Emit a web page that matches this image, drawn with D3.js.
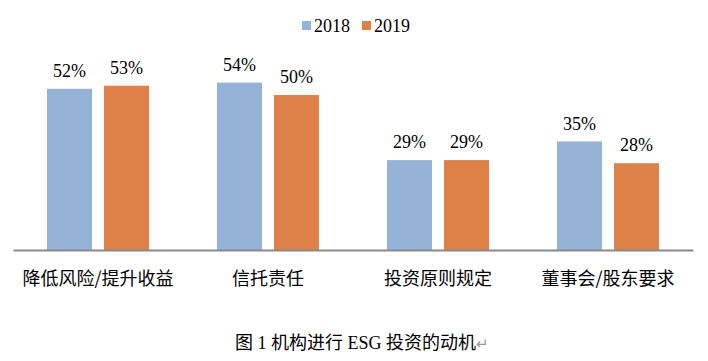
<!DOCTYPE html>
<html><head><meta charset="utf-8">
<script src="https://cdn.jsdelivr.net/npm/d3@7"></script>
<style>body{margin:0;background:#fff}svg{display:block}</style>
</head><body>
<script>
const categories = ["降低风险/提升收益", "信托责任", "投资原则规定", "董事会/股东要求"];
const seriesNames = ["2018", "2019"];
const values2018 = [52, 54, 29, 35];
const values2019 = [53, 50, 29, 28];
const colors = ["#95B3D7", "#DE8149"];
const caption = "图 1 机构进行 ESG 投资的动机";

const W = 708, H = 361;
const svg = d3.select("body").append("svg").attr("width", W).attr("height", H);
const baseY = 250;
const x0 = d3.scaleBand().domain(categories).range([13, 693]).paddingInner(0).paddingOuter(0);
const x1 = d3.scaleBand().domain(seriesNames).range([34, 136]).paddingInner(0.21);
const y = d3.scaleLinear().domain([0, 100]).range([baseY, baseY - 310]);

const data = categories.map((c, i) => ({cat: c, vals: [values2018[i], values2019[i]]}));

const g = svg.append("g");
const groups = g.selectAll("g.cat").data(data).join("g")
  .attr("transform", d => `translate(${x0(d.cat)},0)`);
groups.selectAll("rect").data(d => d.vals.map((v, j) => ({s: seriesNames[j], v, j})))
  .join("rect")
  .attr("x", d => x1(d.s)).attr("width", x1.bandwidth())
  .attr("y", d => y(d.v)).attr("height", d => baseY - y(d.v))
  .attr("fill", d => colors[d.j]);
groups.selectAll("text.val").data(d => d.vals.map((v, j) => ({s: seriesNames[j], v, j})))
  .join("text").attr("class", "val")
  .attr("x", d => x1(d.s) + x1.bandwidth() / 2)
  .attr("y", d => y(d.v) - 12)
  .attr("text-anchor", "middle")
  .attr("font-family", "'Liberation Serif', 'Times New Roman', serif")
  .attr("font-size", 18).attr("fill", "#000")
  .text(d => d.v + "%");

// axis
const axis = d3.axisBottom(x0).tickSize(0).tickPadding(0);
const ax = svg.append("g").attr("transform", `translate(0,${baseY})`).call(axis);
ax.select(".domain").attr("stroke", "#898989").attr("stroke-width", 2);
ax.selectAll("text").attr("font-family", "'Noto Sans CJK SC', sans-serif")
  .attr("font-size", 18).attr("fill", "#000").attr("y", 29).attr("dy", "0.35em");

// legend
const legend = svg.append("g").attr("transform", "translate(302,0)");
const li = legend.selectAll("g").data(seriesNames).join("g")
  .attr("transform", (d, i) => `translate(${i * 60},0)`);
li.append("rect").attr("x", 0).attr("y", 21).attr("width", 9).attr("height", 9)
  .attr("fill", (d, i) => colors[i]);
li.append("text").attr("x", 12).attr("y", 32)
  .attr("font-family", "'Liberation Serif', 'Times New Roman', serif")
  .attr("font-size", 18).attr("fill", "#000").text(d => d);

// caption
const cap = svg.append("text").attr("x", 235).attr("y", 349)
  .attr("font-family", "'Liberation Serif', 'Noto Sans CJK SC', serif")
  .attr("font-size", 18).attr("fill", "#000");
cap.append("tspan").text(caption);
cap.append("tspan").attr("fill", "#9a9a9a").attr("font-size", 15).text("↵");
</script>
</body></html>
